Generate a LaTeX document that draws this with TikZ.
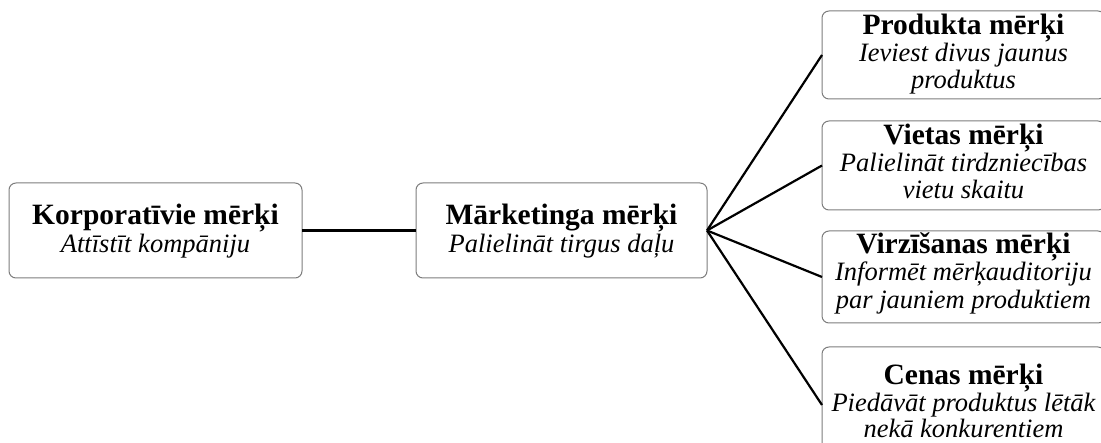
\documentclass[tikz,border=0pt]{standalone}
\usepackage{fontspec}
\setmainfont{Liberation Serif}
\definecolor{boxgray}{RGB}{125,125,125}
\tikzset{
  goalbox/.style={draw=boxgray, line width=1pt, rounded corners=7pt, inner sep=0pt, outer sep=0pt},
  ttltext/.style={anchor=base, inner sep=0pt, font=\fontsize{29.5}{30}\selectfont\bfseries},
  subtext/.style={anchor=base, inner sep=0pt, font=\fontsize{26.5}{28}\selectfont\itshape},
  link/.style={line width=2.2pt, black}
}
\begin{document}
\begin{tikzpicture}[x=1pt,y=-1pt]
\useasboundingbox (0,0) rectangle (1101,443);
\clip (0,0) rectangle (1101,443);
% boxes
\node[goalbox, minimum width=293pt, minimum height=95pt] (L) at (155.5,230.5) {};
\node[goalbox, minimum width=291pt, minimum height=95pt] (M) at (561.5,230.5) {};
\node[goalbox, minimum width=283pt, minimum height=88pt] (R1) at (963.5,55) {};
\node[goalbox, minimum width=283pt, minimum height=89pt] (R2) at (963.5,165.5) {};
\node[goalbox, minimum width=283pt, minimum height=92pt] (R3) at (963.5,277) {};
\node[goalbox, minimum width=283pt, minimum height=116pt] (R4) at (963.5,405) {};
% texts
\node[ttltext] (La) at (155.5,225) {Korporatīvie mērķi};
\node[subtext] (Lb) at (155.5,253) {Attīstīt kompāniju};
\node[ttltext] (Ma) at (561.5,225) {Mārketinga mērķi};
\node[subtext] (Mb) at (561.5,253) {Palielināt tirgus daļu};
\node[ttltext] (R1a) at (963.5,35) {Produkta mērķi};
\node[subtext] (R1b) at (963.5,62) {Ieviest divus jaunus};
\node[subtext] (R1c) at (963.5,89) {produktus};
\node[ttltext] (R2a) at (963.5,145) {Vietas mērķi};
\node[subtext] (R2b) at (963.5,172) {Palielināt tirdzniecības};
\node[subtext] (R2c) at (963.5,199) {vietu skaitu};
\node[ttltext] (R3a) at (963.5,254) {Virzīšanas mērķi};
\node[subtext] (R3b) at (963.5,281) {Informēt mērķauditoriju};
\node[subtext] (R3c) at (963.5,309) {par jauniem produktiem};
\node[ttltext] (R4a) at (963.5,385) {Cenas mērķi};
\node[subtext] (R4b) at (963.5,412) {Piedāvāt produktus lētāk};
\node[subtext] (R4c) at (963.5,438) {nekā konkurentiem};
% connectors
\draw[link] (L.east) -- (M.west);
\foreach \r in {R1,R2,R3,R4} \draw[link] (M.east) -- (\r.west);
\end{tikzpicture}
\end{document}
